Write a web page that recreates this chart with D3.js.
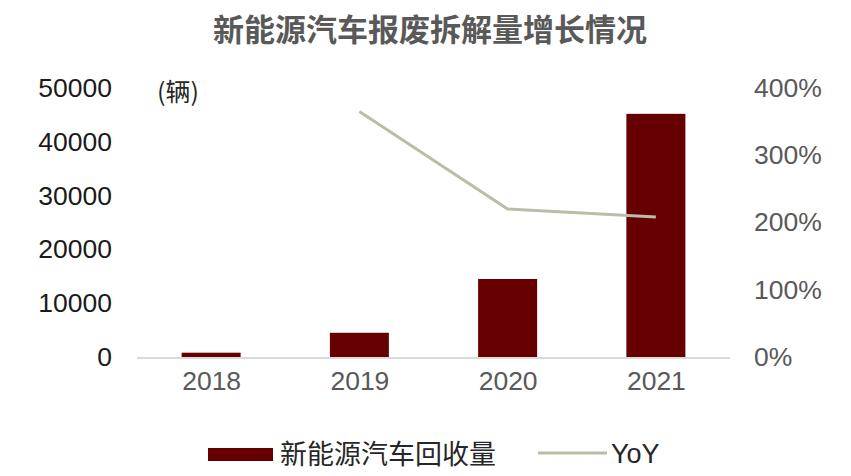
<!DOCTYPE html>
<html><head><meta charset="utf-8">
<script src="https://cdn.jsdelivr.net/npm/d3@7"></script>
<style>body{margin:0;background:#fff}svg{display:block}text{font-family:"Liberation Sans",Arial,sans-serif}</style>
</head><body>
<svg id="c" width="851" height="476"></svg>
<script>
const categories = ["2018","2019","2020","2021"];
const recycleVolume = [800, 4500, 14500, 45200];
const yoy = [null, 3.65, 2.20, 2.08];
const leftTicks = [0,10000,20000,30000,40000,50000];
const rightTicks = [0,1,2,3,4];
const title = "新能源汽车报废拆解量增长情况";
const seriesNames = ["新能源汽车回收量","YoY"];
const unitLabel = "(辆)";

const svg = d3.select("#c");
const plot = {left:137, right:730, top:88, bottom:357};
const xc = d3.scalePoint().domain(categories).range([plot.left, plot.right]).padding(0.5);
const yL = d3.scaleLinear().domain([0,50000]).range([plot.bottom, plot.top]);
const yR = d3.scaleLinear().domain([0,4]).range([plot.bottom, plot.top]);

svg.append("text").attr("x",430).attr("y",41).attr("text-anchor","middle")
  .attr("font-size",31).attr("font-weight","bold").attr("fill","#595959")
  .style("font-family","'Noto Sans CJK SC',sans-serif").text(title);

// bars
svg.append("g").selectAll("rect").data(categories).join("rect")
  .attr("x", d=>xc(d)-29.5).attr("width",59)
  .attr("y",(d,i)=>yL(recycleVolume[i])).attr("height",(d,i)=>plot.bottom-yL(recycleVolume[i]))
  .attr("fill","#660000");

// x axis baseline
svg.append("line").attr("x1",plot.left).attr("x2",plot.right).attr("y1",plot.bottom+1).attr("y2",plot.bottom+1)
  .attr("stroke","#d9d9d9").attr("stroke-width",2);

// left axis
const gL = svg.append("g").attr("transform",`translate(${plot.left-25},0)`)
  .call(d3.axisLeft(yL).tickValues(leftTicks).tickFormat(d3.format("d")).tickSize(0).tickPadding(0));
gL.select(".domain").remove();
gL.selectAll("text").attr("font-size",26.5).attr("fill","#1a1a1a").style("font-family","'Liberation Sans',Arial,sans-serif");

// right axis
const gR = svg.append("g").attr("transform",`translate(${plot.right+24},0)`)
  .call(d3.axisRight(yR).tickValues(rightTicks).tickFormat(d=>d3.format(".0%")(d)).tickSize(0).tickPadding(0));
gR.select(".domain").remove();
gR.selectAll("text").attr("font-size",26.5).attr("fill","#595959").style("font-family","'Liberation Sans',Arial,sans-serif");

// x labels
const gX = svg.append("g").attr("transform",`translate(0,${plot.bottom+14})`)
  .call(d3.axisBottom(xc).tickSize(0).tickPadding(0));
gX.select(".domain").remove();
gX.selectAll("text").attr("font-size",26.5).attr("fill","#595959").attr("dy","0.72em").style("font-family","'Liberation Sans',Arial,sans-serif");

// line
const pts = categories.map((c,i)=>[c,yoy[i]]).filter(d=>d[1]!=null);
svg.append("path").datum(pts)
  .attr("d", d3.line().x(d=>xc(d[0])).y(d=>yR(d[1])))
  .attr("fill","none").attr("stroke","#bcbcaa").attr("stroke-width",3);

// unit label
svg.append("text").attr("x",157).attr("y",101).attr("font-size",25).attr("fill","#262626")
  .style("font-family","'Noto Sans CJK SC',sans-serif").text(unitLabel);

// legend
const lg = svg.append("g");
lg.append("rect").attr("x",208).attr("y",448).attr("width",65).attr("height",13).attr("fill","#660000");
lg.append("text").attr("x",280).attr("y",464).attr("font-size",27).attr("fill","#262626")
  .style("font-family","'Noto Sans CJK SC',sans-serif").text(seriesNames[0]);
lg.append("line").attr("x1",538).attr("x2",607).attr("y1",453).attr("y2",453).attr("stroke","#bcbcaa").attr("stroke-width",3);
lg.append("text").attr("x",611).attr("y",463).attr("font-size",27).attr("fill","#262626").text(seriesNames[1]);
</script>
</body></html>
